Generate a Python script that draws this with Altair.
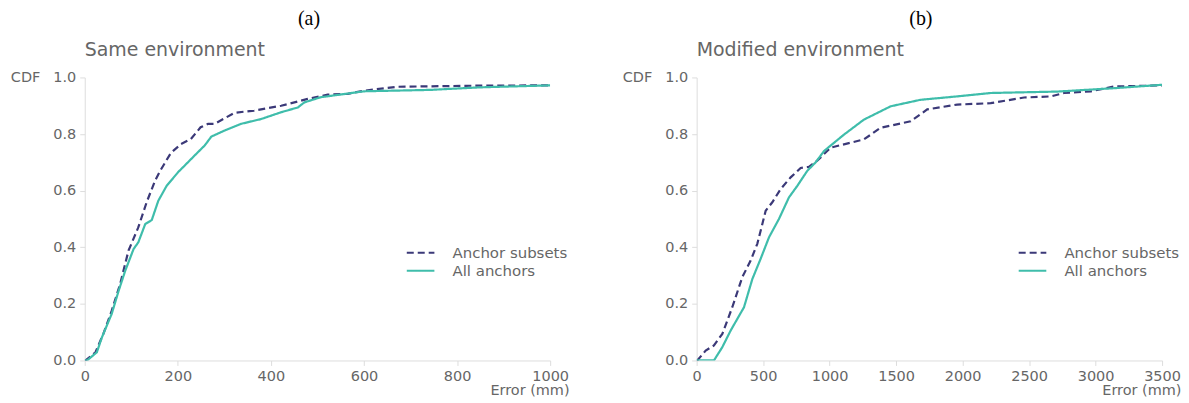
import altair as alt
import pandas as pd

# ---------------- data ----------------
series_names = ["Anchor subsets", "All anchors"]

a_dash_x = [0, 2, 23, 40, 58, 76, 94, 115, 133, 151, 162, 185, 207, 228, 249, 265, 279, 322, 364, 422, 479, 522, 565, 600, 672, 850, 1000]
a_dash_y = [0, 0, 0.029, 0.094, 0.176, 0.27, 0.388, 0.47, 0.559, 0.635, 0.67, 0.733, 0.765, 0.782, 0.824, 0.836, 0.836, 0.875, 0.883, 0.9, 0.924, 0.939, 0.942, 0.953, 0.967, 0.971, 0.972]

a_solid_x = [0, 5, 26, 37, 58, 73, 87, 105, 115, 130, 144, 158, 176, 201, 215, 236, 258, 272, 300, 336, 379, 422, 458, 472, 507, 600, 743, 850, 1000]
a_solid_y = [0, 0, 0.029, 0.082, 0.165, 0.247, 0.317, 0.394, 0.417, 0.482, 0.496, 0.564, 0.617, 0.666, 0.689, 0.724, 0.76, 0.791, 0.812, 0.836, 0.853, 0.877, 0.894, 0.912, 0.93, 0.951, 0.956, 0.965, 0.972]

b_dash_x = [0, 5, 68, 130, 193, 268, 343, 406, 456, 494, 519, 569, 632, 707, 782, 844, 907, 1008, 1258, 1383, 1609, 1734, 1959, 2211, 2462, 2665, 2764, 2965, 3140, 3500]
b_dash_y = [0, 0, 0.035, 0.053, 0.094, 0.188, 0.294, 0.353, 0.412, 0.482, 0.529, 0.559, 0.606, 0.647, 0.68, 0.684, 0.706, 0.752, 0.781, 0.822, 0.845, 0.887, 0.904, 0.909, 0.929, 0.933, 0.945, 0.951, 0.968, 0.972]

b_solid_x = [0, 130, 193, 256, 356, 419, 481, 544, 619, 694, 757, 832, 895, 958, 1108, 1258, 1459, 1684, 1959, 2211, 2713, 3140, 3500]
b_solid_y = [0, 0, 0.047, 0.106, 0.188, 0.288, 0.359, 0.435, 0.5, 0.576, 0.617, 0.67, 0.7, 0.74, 0.798, 0.851, 0.898, 0.921, 0.933, 0.945, 0.95, 0.962, 0.974]

y_ticks = [0.0, 0.2, 0.4, 0.6, 0.8, 1.0]
a_x_ticks = [0, 200, 400, 600, 800, 1000]
b_x_ticks = [0, 500, 1000, 1500, 2000, 2500, 3000, 3500]

NAVY = "#3b3978"
TEAL = "#3fbdab"
GREY = "#666666"
FONT = "DejaVu Sans"

W, H = 467, 284


def panel(tag, subtitle, dx, dy, sx, sy, xmax, xticks):
    df = pd.concat([
        pd.DataFrame({"error": dx, "cdf": dy, "series": series_names[0], "i": range(len(dx))}),
        pd.DataFrame({"error": sx, "cdf": sy, "series": series_names[1], "i": range(len(sx))}),
    ])
    legend = alt.Legend(
        title=None, orient="none", legendX=327, legendY=166,
        symbolType="M-1.6,0H1.6", symbolSize=300, symbolStrokeWidth=2,
        labelFont=FONT, labelFontSize=15, labelColor=GREY, rowPadding=0,
        labelOffset=22,
    )
    lines = alt.Chart(df).mark_line(strokeWidth=2.2, clip=True).encode(
        x=alt.X("error:Q", scale=alt.Scale(domain=[0, xmax], nice=False),
                axis=alt.Axis(values=xticks, title="Error (mm)", titleAnchor="end",
                              titleAlign="right", titleBaseline="middle",
                              titleX=W + 19, titleY=30, format="d", labelFlush=False)),
        y=alt.Y("cdf:Q", scale=alt.Scale(domain=[0, 1], nice=False),
                axis=alt.Axis(values=y_ticks, format=".1f", title="CDF", titleAngle=0,
                              titleAlign="right", titleBaseline="middle",
                              titleX=-45, titleY=0)),
        color=alt.Color("series:N", scale=alt.Scale(domain=series_names, range=[NAVY, TEAL]),
                        legend=legend),
        strokeDash=alt.StrokeDash("series:N",
                                  scale=alt.Scale(domain=series_names, range=[[7, 4], [1, 0]]),
                                  legend=legend),
        order="i:Q",
    )
    tag_text = alt.Chart(pd.DataFrame({"t": [tag]})).mark_text(
        font="Liberation Serif", fontSize=20, color="black", baseline="middle", align="center"
    ).encode(text="t:N", x=alt.value(225), y=alt.value(-59))
    sub_text = alt.Chart(pd.DataFrame({"t": [subtitle]})).mark_text(
        font=FONT, fontSize=19, color=GREY, baseline="alphabetic", align="left"
    ).encode(text="t:N", x=alt.value(0), y=alt.value(-21))
    return alt.layer(lines, tag_text, sub_text).properties(width=W, height=H)


pa = panel("(a)", "Same environment", a_dash_x, a_dash_y, a_solid_x, a_solid_y, 1000, a_x_ticks)
pb = panel("(b)", "Modified environment", b_dash_x, b_dash_y, b_solid_x, b_solid_y, 3500, b_x_ticks)

chart = alt.hconcat(pa, pb, spacing=53).resolve_scale(
    color="independent", strokeDash="independent", x="independent"
).properties(
    padding={"left": 2, "top": 0, "right": 0, "bottom": 0}
).configure_view(stroke=None).configure_axis(
    grid=False, domainColor="#dddddd", tickColor="#dddddd", tickSize=5,
    labelFont=FONT, labelFontSize=14.5, labelColor=GREY,
    titleFont=FONT, titleFontSize=14.5, titleColor=GREY, titleFontWeight="normal",
    labelPadding=4,
)

chart.save("out.html", embed_options={"renderer": "svg", "actions": False})
